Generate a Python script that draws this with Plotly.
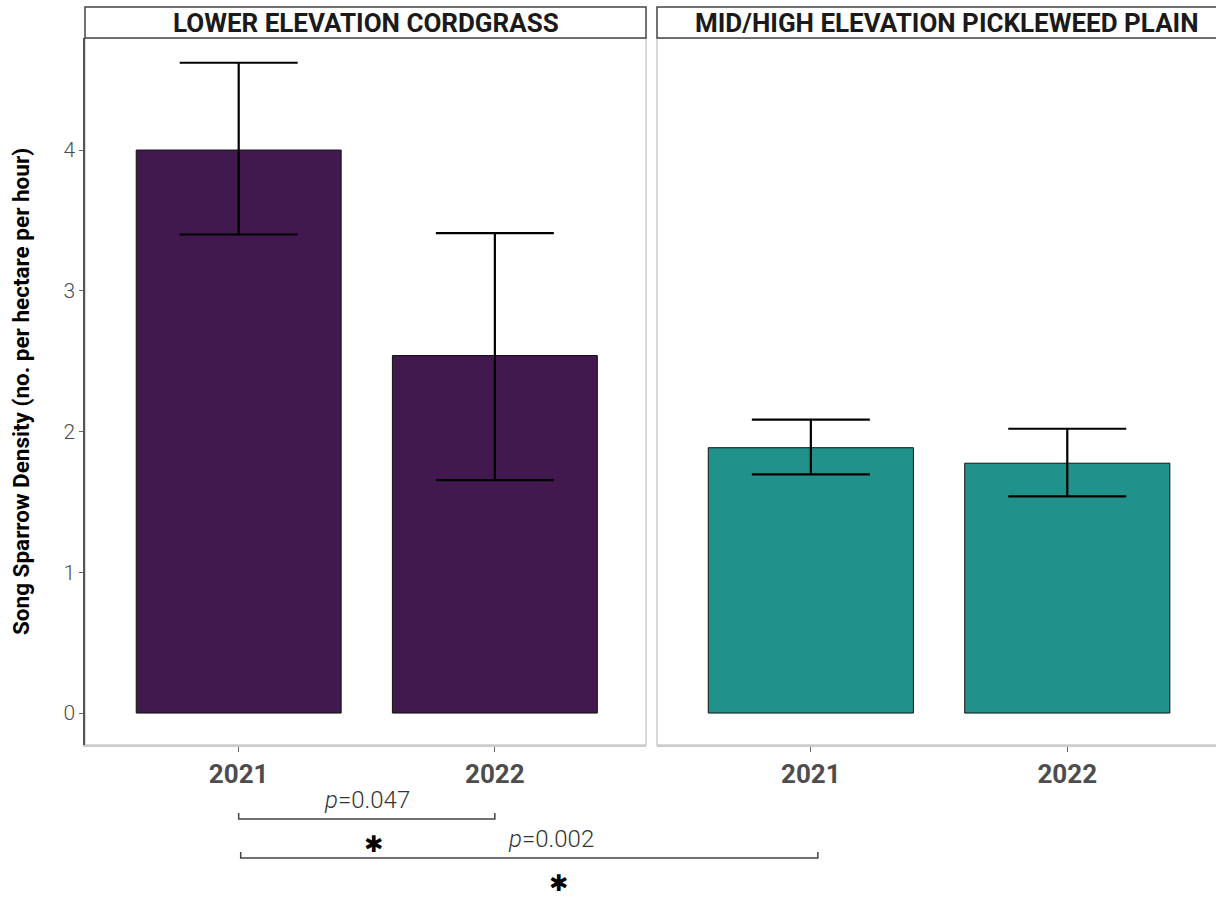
import plotly.graph_objects as go

# Song sparrow density by habitat and year (mean with interval bounds)
years = ["2021", "2022"]
habitats = ["LOWER ELEVATION CORDGRASS", "MID/HIGH ELEVATION PICKLEWEED PLAIN"]
cord_mean = [4.00, 2.54]
cord_low = [3.40, 1.655]
cord_high = [4.62, 3.41]
pick_mean = [1.885, 1.775]
pick_low = [1.695, 1.54]
pick_high = [2.085, 2.02]
bar_colors = ["#41194f", "#20918b"]

comparisons = [
    # (panel a, year a, panel b, year b, label)
    (0, "2021", 0, "2022", "0.047"),
    (0, "2021", 1, "2021", "0.002"),
]

W, H = 1216, 901
dom_x = [[85 / W, 646 / W], [657 / W, 1.0]]
dom_y = [1 - 745 / H, 1 - 38 / H]
range_x = [[-0.6, 1.59], [-0.6, 1.58]]
range_y = [-0.227, 4.796]

fig = go.Figure()

series = [(cord_mean, cord_low, cord_high), (pick_mean, pick_low, pick_high)]
for i, (m, lo, hi) in enumerate(series):
    fig.add_trace(go.Bar(
        x=years, y=m,
        xaxis="x" if i == 0 else "x2", yaxis="y" if i == 0 else "y2",
        width=0.8,
        marker=dict(color=bar_colors[i], line=dict(color="#111111", width=1)),
        error_y=dict(type="data", symmetric=False,
                     array=[h - v for h, v in zip(hi, m)],
                     arrayminus=[v - l for l, v in zip(lo, m)],
                     color="black", thickness=2.2, width=59),
        showlegend=False, hoverinfo="skip",
    ))

tick_font_y = dict(family="Roboto", size=21, color="#4d4d4d", weight=300)
tick_font_x = dict(family="Roboto", size=26, color="#4d4d4d", weight="bold")

common_x = dict(type="category", showgrid=False, zeroline=False, showline=True,
                linecolor="#cccccc", linewidth=1.5, ticks="outside", ticklen=5,
                tickcolor="#666666", tickfont=tick_font_x, ticklabelstandoff=0)
fig.update_layout(
    width=W, height=H,
    margin=dict(l=0, r=0, t=0, b=0),
    plot_bgcolor="white", paper_bgcolor="white",
    xaxis=dict(domain=dom_x[0], range=range_x[0], anchor="y", **common_x),
    xaxis2=dict(domain=dom_x[1], range=range_x[1], anchor="y2", **common_x),
    yaxis=dict(domain=dom_y, range=range_y, anchor="x", showgrid=False, zeroline=False,
               showline=True, linecolor="#555555", linewidth=1.5,
               ticks="outside", ticklen=4, tickcolor="#666666",
               tickvals=[0, 1, 2, 3, 4], tickfont=tick_font_y,
               title=dict(text="Song Sparrow Density (no. per hectare per hour)",
                          font=dict(family="Roboto", size=22.5, color="black", weight="bold"),
                          standoff=28)),
    yaxis2=dict(domain=dom_y, range=range_y, anchor="x2", showgrid=False, zeroline=False,
                showticklabels=False, showline=False, matches="y"),
)

# Panel borders and strip headers
strip_h = 31 / (dom_y[1] - dom_y[0]) / H
for i, xr in enumerate(["x", "x2"]):
    yr = "y" if i == 0 else "y2"
    fig.add_shape(type="rect", xref=f"{xr} domain", yref=f"{yr} domain",
                  x0=0, x1=1 if i == 0 else 1.02, y0=0, y1=1,
                  line=dict(color="#cccccc", width=1.5), layer="below")
    fig.add_shape(type="rect", xref=f"{xr} domain", yref=f"{yr} domain",
                  x0=0, x1=1 if i == 0 else 1.02, y0=1, y1=1 + strip_h,
                  line=dict(color="#444444", width=1.5), fillcolor="white")
    fig.add_annotation(xref=f"{xr} domain", yref=f"{yr} domain",
                       x=0.5 if i == 0 else 0.519, y=1 + strip_h / 2,
                       xanchor="center", yanchor="middle",
                       text=habitats[i], showarrow=False,
                       font=dict(family="Roboto", size=26, color="#1a1a1a", weight="bold"))


def paper_x(panel, year):
    d, r = dom_x[panel], range_x[panel]
    v = years.index(year)
    return d[0] + (v - r[0]) / (r[1] - r[0]) * (d[1] - d[0])


bracket_y = [1 - 819 / H, 1 - 858 / H]
bracket_pad = [(0, 0), (2, 7)]  # pixel nudges for bracket ends
tick_h = 6 / H
for k, (pa, ya, pb, yb, lab) in enumerate(comparisons):
    x0 = paper_x(pa, ya) + bracket_pad[k][0] / W
    x1 = paper_x(pb, yb) + bracket_pad[k][1] / W
    by = bracket_y[k]
    fig.add_shape(type="path", xref="paper", yref="paper",
                  path=f"M {x0} {by + tick_h} L {x0} {by} L {x1} {by} L {x1} {by + tick_h}",
                  line=dict(color="#444444", width=1.5))
    xc = (x0 + x1) / 2
    shift = 0 if k == 0 else 22
    fig.add_annotation(xref="paper", yref="paper", x=xc, y=by + 19 / H, xshift=shift,
                       xanchor="center", yanchor="middle",
                       text=f"<i>p</i>=" + lab, showarrow=False,
                       font=dict(family="Roboto", size=24, color="#333333", weight=300))
    fig.add_annotation(xref="paper", yref="paper", x=xc, y=by - 25 / H, xshift=shift + 7,
                       xanchor="center", yanchor="middle",
                       text="\u2731", showarrow=False,
                       font=dict(family="DejaVu Sans", size=23, color="black"))

fig.write_html("out.html")
